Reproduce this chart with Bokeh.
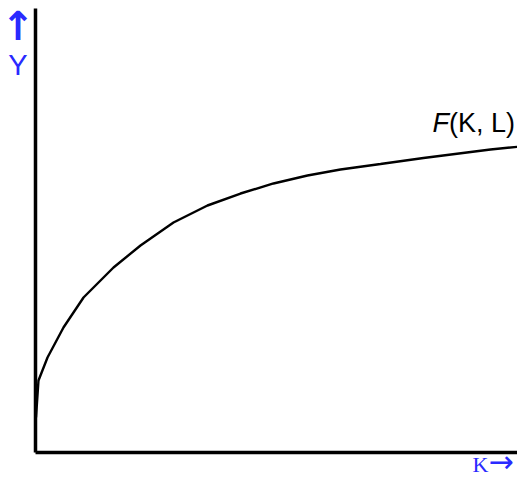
from bokeh.plotting import figure
from bokeh.embed import file_html
from bokeh.resources import INLINE
from bokeh.core.properties import value

# Production function F(K, L): output Y against capital K
capital = [0.10, 0.61, 2.45, 5.71, 9.80, 15.92, 21.43, 28.16, 35.10, 41.84,
           48.57, 55.51, 62.24, 70.41, 79.18, 92.86, 100.0]
output = [7.88, 16.22, 21.40, 28.15, 34.91, 41.67, 46.62, 51.80, 55.63, 58.33,
          60.59, 62.39, 63.74, 64.98, 66.33, 68.24, 69.03]

k_max = 100.0
y_max = 100.0

W, H = 517, 478
p = figure(width=W, height=H, output_backend="svg", toolbar_location=None,
           x_range=(-7.143, 98.37), y_range=(-5.856, 101.8),
           min_border=0, min_border_left=0, min_border_right=0,
           min_border_top=0, min_border_bottom=0)
p.axis.visible = False
p.grid.visible = False
p.outline_line_color = None
p.background_fill_color = "white"
p.border_fill_color = "white"

# axes lines
p.segment(x0=[0, 0], y0=[0, 0], x1=[0, k_max], y1=[y_max, 0],
          line_color="black", line_width=3.5)

# curve
p.line(capital, output, line_color="black", line_width=2.4)

blue = "#2a2aff"
sans = value("Liberation Sans")
serif = value("Liberation Serif")
dejavu = value("DejaVu Sans")

p.text(x=[-3.57], y=[95.95], text=["↑"], text_font=dejavu, text_font_size="40px",
       text_font_style="bold", text_color=blue, text_align="center",
       text_baseline="alphabetic")
p.text(x=[-3.57], y=[87.25], text=["Y"], text_font=sans, text_font_size="29px",
       text_color=blue, text_align="center", text_baseline="alphabetic")

p.text(x=[81.02], y=[74.1], text=["F"], text_font=sans, text_font_size="27px",
       text_font_style="italic", text_color="black", text_align="left",
       text_baseline="alphabetic")
p.text(x=[84.39], y=[74.1], text=["(K, L)"], text_font=sans, text_font_size="27px",
       text_color="black", text_align="left", text_baseline="alphabetic")

p.text(x=[89.18], y=[-2.70], text=["K"], text_font=serif, text_font_size="22px",
       text_color=blue, text_align="left", text_baseline="alphabetic")
p.text(x=[92.45], y=[-2.07], text=["→"], text_font=dejavu, text_font_size="30px",
       text_color=blue, text_align="left", text_baseline="alphabetic")

open("out.html", "w").write(file_html(p, INLINE))
